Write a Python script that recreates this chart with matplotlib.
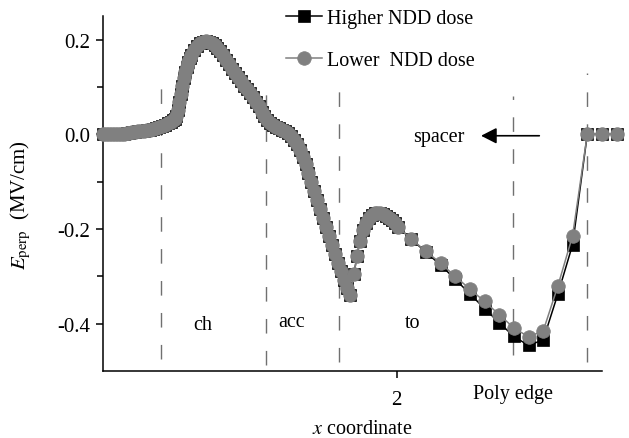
import matplotlib
matplotlib.use("Agg")
import matplotlib.pyplot as plt

plt.rcParams['font.family'] = ['Liberation Serif', 'DejaVu Serif']
plt.rcParams['mathtext.fontset'] = 'stix'
plt.rcParams['axes.unicode_minus'] = False

# dense part of the profile (both doses overlap here)
x_dense = [0.00, 0.02, 0.04, 0.06, 0.08, 0.10, 0.12, 0.14, 0.16, 0.18,
           0.20, 0.22, 0.24, 0.26, 0.28, 0.30, 0.32, 0.34, 0.36, 0.38,
           0.40, 0.42, 0.44, 0.46, 0.48, 0.49, 0.50, 0.51, 0.52, 0.53,
           0.54, 0.55, 0.56, 0.57, 0.58, 0.59, 0.60, 0.62, 0.64, 0.66,
           0.68, 0.70, 0.72, 0.74, 0.76, 0.78, 0.80, 0.82, 0.84, 0.86,
           0.88, 0.90, 0.92, 0.94, 0.96, 0.98, 1.00, 1.02, 1.04, 1.06,
           1.08, 1.10, 1.12, 1.14, 1.16, 1.18, 1.20, 1.22, 1.24, 1.26,
           1.28, 1.30, 1.32, 1.34, 1.36, 1.38, 1.40, 1.42, 1.44, 1.46,
           1.48, 1.50, 1.52, 1.54, 1.56, 1.58, 1.60, 1.62, 1.64, 1.66,
           1.68, 1.71, 1.73, 1.75, 1.77, 1.79, 1.81, 1.83, 1.85, 1.87,
           1.89, 1.91, 1.93, 1.95, 1.97, 1.99, 2.01]
e_dense = [0.000, 0.000, 0.000, 0.000, 0.000, 0.000, 0.000, 0.001, 0.002, 0.003,
           0.004, 0.005, 0.006, 0.007, 0.008, 0.009, 0.010, 0.012, 0.014, 0.016,
           0.018, 0.020, 0.023, 0.026, 0.030, 0.033, 0.038, 0.051, 0.068, 0.086,
           0.103, 0.118, 0.131, 0.142, 0.152, 0.161, 0.168, 0.178, 0.186, 0.192,
           0.196, 0.197, 0.195, 0.192, 0.188, 0.182, 0.175, 0.167, 0.158, 0.149,
           0.139, 0.130, 0.121, 0.112, 0.103, 0.095, 0.087, 0.078, 0.069, 0.059,
           0.048, 0.038, 0.030, 0.024, 0.020, 0.016, 0.013, 0.010, 0.007, 0.003,
           -0.003, -0.011, -0.021, -0.033, -0.047, -0.063, -0.081, -0.100, -0.119, -0.138,
           -0.157, -0.176, -0.195, -0.214, -0.233, -0.252, -0.271, -0.289, -0.307, -0.324,
           -0.340, -0.296, -0.257, -0.226, -0.203, -0.188, -0.177, -0.170, -0.167, -0.166,
           -0.167, -0.169, -0.172, -0.176, -0.181, -0.188, -0.196]

# coarse part (oxide / poly edge / spacer)
x_coarse = [2.1, 2.2, 2.3, 2.4, 2.5, 2.6, 2.7, 2.8, 2.9, 3.0, 3.1, 3.2, 3.3, 3.4, 3.5]
e_high = [-0.221, -0.249, -0.276, -0.306, -0.337, -0.368, -0.398, -0.427,
          -0.446, -0.434, -0.337, -0.233, 0.0, 0.0, 0.0]
e_low = [-0.221, -0.247, -0.272, -0.300, -0.327, -0.353, -0.381, -0.409,
         -0.428, -0.415, -0.320, -0.214, 0.0, 0.0, 0.0]

x_high = x_dense + x_coarse
y_high = e_dense + e_high
x_low = x_dense + x_coarse
y_low = e_dense + e_low

# region boundaries (x) and their dashed extents (ymin, ymax)
bounds = [0.392, 1.113, 1.608, 2.796, 3.295]
bound_ext = [(-0.474, 0.12), (-0.487, 0.109), (-0.482, 0.111), (-0.466, 0.08), (-0.482, 0.13)]
regions = ['ch', 'acc', 'to']
region_x = [0.68, 1.285, 2.11]
region_y = [-0.402, -0.396, -0.398]

gray = '#808080'

fig = plt.figure(figsize=(6.29, 4.39), dpi=100)
ax = fig.add_axes([0.1638, 0.1526, 0.7932, 0.8087])

for xb, (y0, y1) in zip(bounds, bound_ext):
    ax.plot([xb, xb], [y0, y1], color='#707070', lw=1.0, dashes=(10.5, 12.5), zorder=1)

ax.plot(x_high, y_high, color='black', lw=1.1, marker='s', ms=8.6,
        mfc='black', mec='black', mew=0.5, label='Higher NDD dose',
        clip_on=False, zorder=2)
ax.plot(x_low, y_low, color=gray, lw=1.1, marker='o', ms=9.8,
        mfc=gray, mec=gray, mew=0.5, label='Lower  NDD dose',
        clip_on=False, zorder=3)

for lab, xr, yr in zip(regions, region_x, region_y):
    ax.text(xr, yr, lab, fontsize=14.5, ha='center', va='center')

ax.text(2.286, -0.005, 'spacer', fontsize=14.5, ha='center', va='center')
ax.annotate('', xy=(2.576, -0.003), xytext=(2.973, -0.003),
            arrowprops=dict(arrowstyle='-|>,head_length=0.47,head_width=0.24',
                            color='black', lw=1.2, mutation_scale=20,
                            shrinkA=0, shrinkB=0))

ax.set_xlim(0, 3.4)
ax.set_ylim(-0.5, 0.25)
ax.spines['top'].set_visible(False)
ax.spines['right'].set_visible(False)
ax.spines['left'].set_linewidth(1.1)
ax.spines['bottom'].set_linewidth(1.1)

ax.set_xticks([2])
ax.set_xticklabels(['2'])
ax.set_yticks([-0.4, -0.2, 0.0, 0.2])
ax.set_yticklabels(['-0.4', '-0.2', '0.0', '0.2'])
ax.set_yticks([-0.3, -0.1, 0.1], minor=True)
ax.tick_params(axis='both', which='major', direction='out', length=5, width=1.1,
               labelsize=15)
ax.tick_params(axis='x', pad=8.5)
ax.tick_params(axis='y', pad=4)
ax.tick_params(axis='y', which='minor', direction='out', length=4, width=1.1)

ax.text(2.796, -0.548, 'Poly edge', fontsize=14.5, ha='center', va='center')

ax.set_xlabel('$x$ coordinate', fontsize=14.5)
ax.xaxis.set_label_coords(0.52, -0.135)
ax.set_ylabel(r'$E_{\mathrm{perp}}$  (MV/cm)', fontsize=15)
ax.yaxis.set_label_coords(-0.14, 0.47)

fig.legend(loc='upper left', bbox_to_anchor=(286 / 629, 1 - 10 / 439),
           frameon=False, fontsize=14.5, handlelength=1.8, handletextpad=0.25,
           labelspacing=1.15, borderaxespad=0, borderpad=0)

fig.savefig('out.png', dpi=100)
